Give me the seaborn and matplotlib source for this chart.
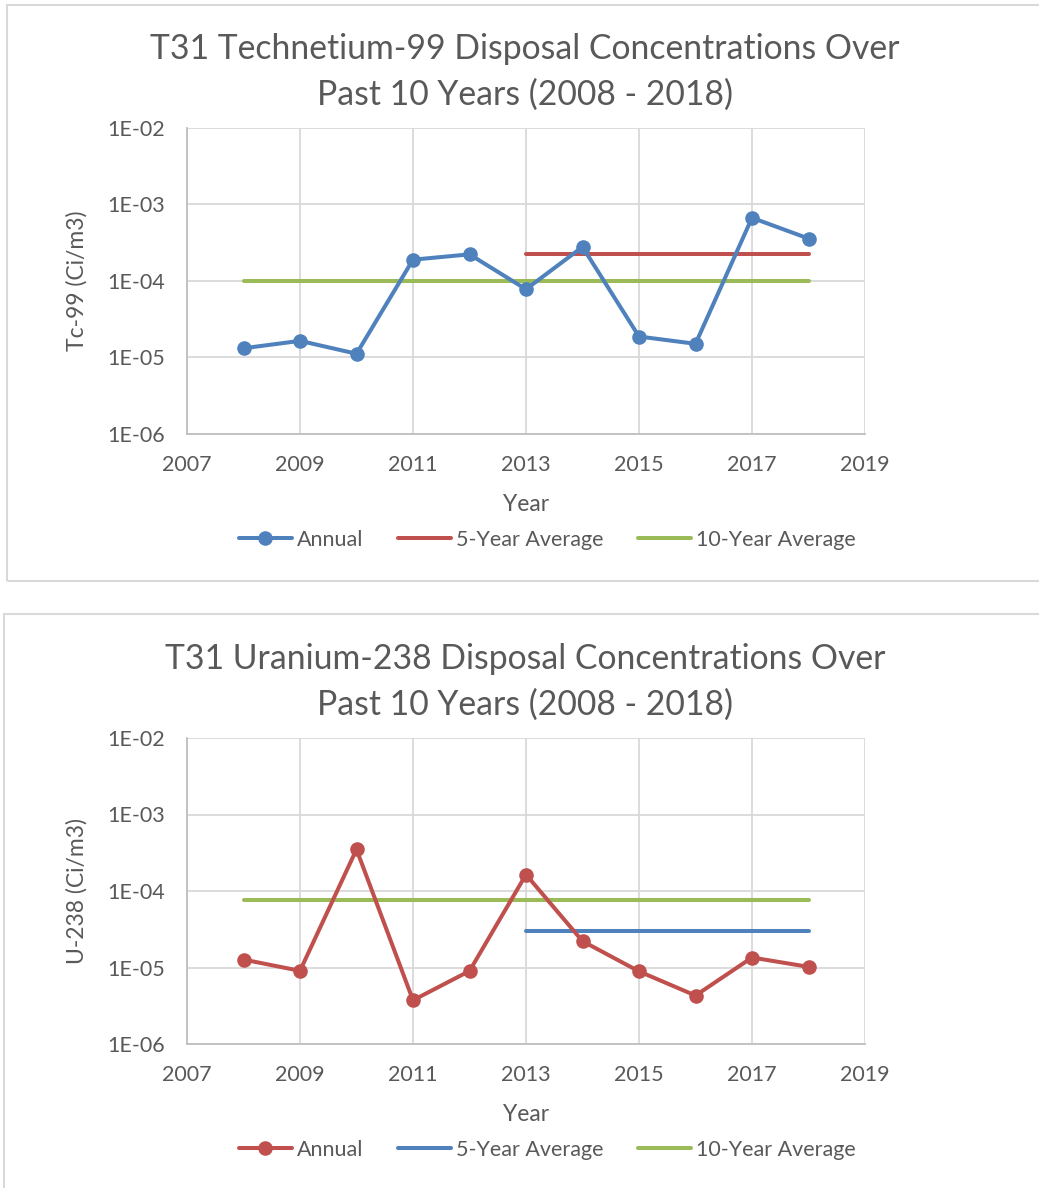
import numpy as np
import pandas as pd
import matplotlib
matplotlib.use("Agg")
import matplotlib.pyplot as plt
import seaborn as sns
from matplotlib.patches import Rectangle
from matplotlib.lines import Line2D

years = [2008, 2009, 2010, 2011, 2012, 2013, 2014, 2015, 2016, 2017, 2018]
tc99_annual = [1.32e-5, 1.65e-5, 1.12e-5, 1.9e-4, 2.23e-4, 7.8e-5, 2.79e-4, 1.88e-5, 1.51e-5, 6.7e-4, 3.59e-4]
tc99_5yr = 2.25e-4
tc99_10yr = 1.0e-4
u238_annual = [1.27e-5, 9.05e-6, 3.5e-4, 3.73e-6, 9.0e-6, 1.64e-4, 2.21e-5, 8.9e-6, 4.3e-6, 1.35e-5, 1.02e-5]
u238_5yr = 3.02e-5
u238_10yr = 7.6e-5
five_years = [2013, 2018]
ten_years = [2008, 2018]

titles = ["T31 Technetium-99 Disposal Concentrations Over\nPast 10 Years (2008 - 2018)",
          "T31 Uranium-238 Disposal Concentrations Over\nPast 10 Years (2008 - 2018)"]
ylabels = ["Tc-99 (Ci/m3)", "U-238 (Ci/m3)"]
ytick_labels = ["1E-06", "1E-05", "1E-04", "1E-03", "1E-02"]
xticks = [2007, 2009, 2011, 2013, 2015, 2017, 2019]
legend_labels = ["Annual", "5-Year Average", "10-Year Average"]

BLUE = "#4f81bd"
RED = "#c0504d"
GREEN = "#9bbb59"
TXT = "#595959"
GRID = "#d9d9d9"

sns.set_theme(style="white")
plt.rcParams['font.family'] = ['Lato', 'DejaVu Sans']

W, H = 1039, 1188
fig = plt.figure(figsize=(W / 100, H / 100), dpi=100)

def fx(px):
    return px / W

def fy(py):
    return 1 - py / H

panels = [
    dict(top=0, annual=tc99_annual, five=tc99_5yr, ten=tc99_10yr, ac=BLUE, fc=RED,
         box=(7, 5, 1060, 581)),
    dict(top=610, annual=u238_annual, five=u238_5yr, ten=u238_10yr, ac=RED, fc=BLUE,
         box=(4, 614, 1060, 1200)),
]

LW = 2.9

for i, p in enumerate(panels):
    off = p["top"]
    x0, y0, x1, y1 = p["box"]
    fig.patches.append(Rectangle((fx(x0), fy(y1)), fx(x1) - fx(x0), fy(y0) - fy(y1),
                                 transform=fig.transFigure, fill=False,
                                 edgecolor="#d9d9d9", linewidth=1.5, zorder=0))
    ax_top, ax_bot = 128 + off, 434 + off
    ax = fig.add_axes([fx(187), fy(ax_bot), fx(865) - fx(187), fy(ax_top) - fy(ax_bot)])

    ann = pd.DataFrame({"Year": years, "Value": p["annual"]})
    five = pd.DataFrame({"Year": five_years, "Value": [p["five"]] * 2})
    ten = pd.DataFrame({"Year": ten_years, "Value": [p["ten"]] * 2})

    sns.lineplot(data=ten, x="Year", y="Value", ax=ax, color=GREEN, linewidth=LW,
                 solid_capstyle="round", zorder=3)
    sns.lineplot(data=five, x="Year", y="Value", ax=ax, color=p["fc"], linewidth=LW,
                 solid_capstyle="round", zorder=4)
    sns.lineplot(data=ann, x="Year", y="Value", ax=ax, color=p["ac"], linewidth=LW,
                 marker="o", markersize=10.5, markeredgewidth=0, zorder=5)

    ax.set_yscale("log")
    ax.set_ylim(1e-6, 1e-2)
    ax.set_xlim(2007, 2019)
    ax.set_yticks([1e-6, 1e-5, 1e-4, 1e-3, 1e-2])
    ax.set_yticklabels(ytick_labels)
    ax.yaxis.set_minor_locator(matplotlib.ticker.NullLocator())
    ax.set_xticks(xticks)
    ax.set_xticklabels([str(x) for x in xticks])
    ax.set_xticks(list(range(2008, 2019, 2)), minor=True)

    ax.grid(True, which="major", color=GRID, linewidth=1.3)
    ax.set_axisbelow(True)
    for s in ["top", "right"]:
        ax.spines[s].set_visible(False)
    for s in ["left", "bottom"]:
        ax.spines[s].set_color("#bfbfbf")
        ax.spines[s].set_linewidth(1.3)
    ax.tick_params(axis="both", which="both", direction="out", color="#bfbfbf",
                   length=5, width=1.3, labelsize=15.5, labelcolor=TXT)
    ax.tick_params(axis="y", pad=11)
    ax.tick_params(axis="x", which="major", pad=10)

    ax.set_xlabel("Year", fontsize=16.5, color=TXT, labelpad=14)
    ax.set_ylabel(ylabels[i], fontsize=16.5, color=TXT, labelpad=14)

    fig.text(fx(525), fy(72 + off), titles[i], ha="center", va="center",
             fontsize=24.3, color=TXT, linespacing=1.55)

    handles = [
        Line2D([], [], color=p["ac"], linewidth=LW, marker="o", markersize=10.5,
               markeredgewidth=0),
        Line2D([], [], color=p["fc"], linewidth=LW),
        Line2D([], [], color=GREEN, linewidth=LW),
    ]
    leg = fig.legend(handles, legend_labels, loc="center", bbox_to_anchor=(fx(547), fy(540 + off)),
                     ncol=3, frameon=False, fontsize=15.5, handlelength=2.5,
                     handletextpad=0.2, columnspacing=1.6)
    for t in leg.get_texts():
        t.set_color(TXT)

fig.savefig("out.png", dpi=100)
